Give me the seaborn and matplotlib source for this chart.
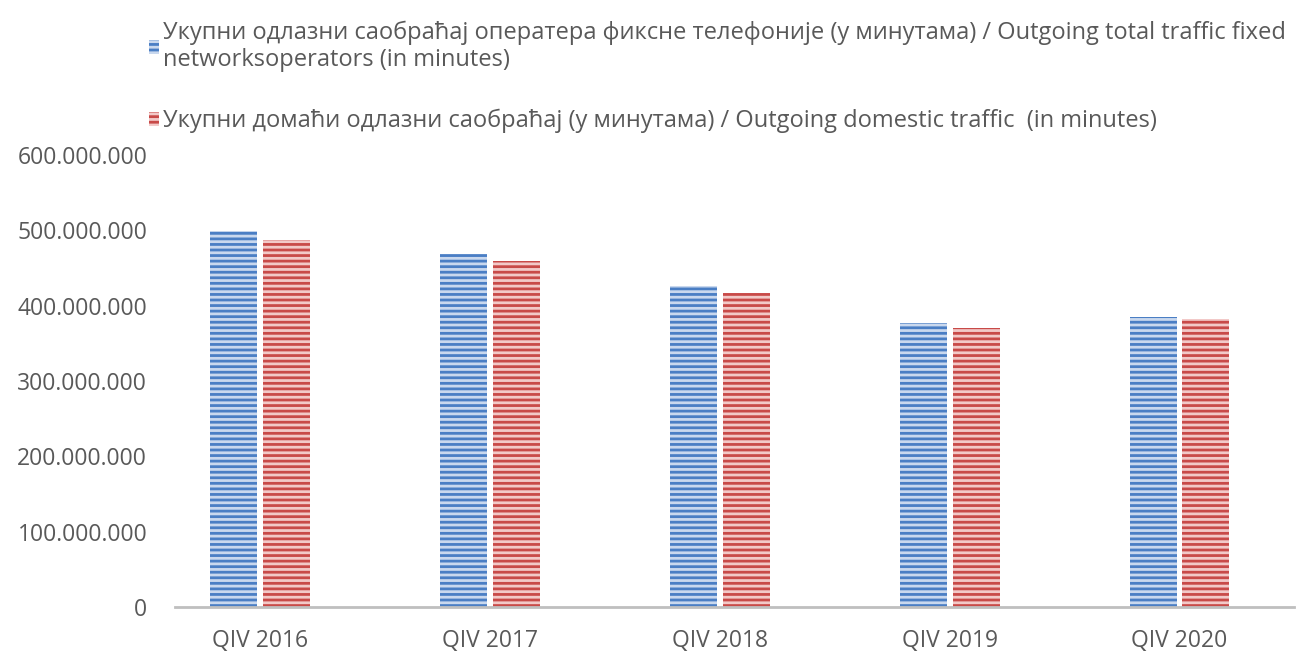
import numpy as np
import pandas as pd
import matplotlib
matplotlib.use("Agg")
import matplotlib.pyplot as plt
import matplotlib.ticker as mticker
import seaborn as sns

quarters = ["QIV 2016", "QIV 2017", "QIV 2018", "QIV 2019", "QIV 2020"]
total_traffic = [498_700_000, 468_000_000, 425_700_000, 376_700_000, 384_600_000]
domestic_traffic = [486_800_000, 459_000_000, 416_400_000, 370_000_000, 382_000_000]

label_total = ("Укупни одлазни саобраћај оператера фиксне телефоније (у минутама) / "
               "Outgoing total traffic fixed\nnetworksoperators (in minutes)")
label_domestic = "Укупни домаћи одлазни саобраћај (у минутама) / Outgoing domestic traffic  (in minutes)"

df = pd.DataFrame({
    "quarter": quarters * 2,
    "value": total_traffic + domestic_traffic,
    "series": [label_total] * len(quarters) + [label_domestic] * len(quarters),
})

sns.set_style("white")
plt.rcParams["font.family"] = ["Open Sans", "DejaVu Sans"]
plt.rcParams["hatch.linewidth"] = 2.0

colors = ["#4a7ec4", "#c84a48"]
stripe = ["#c9d8ee", "#f2c9c8"]
text_col = "#595959"

fig = plt.figure(figsize=(12.97, 6.57), dpi=100)
ax = fig.add_axes([175 / 1297, 1 - 607 / 657, 1 - 175 / 1297 - 0.002, (607 - 155) / 657])

sns.barplot(data=df, x="quarter", y="value", hue="series", palette=colors,
            width=0.46, gap=0.11, ax=ax, legend=False, saturation=1)

# horizontal light stripes on the bars
for cont, sc in zip(ax.containers, stripe):
    for bar in cont:
        bar.set_hatch("---")
        bar.set_edgecolor(sc)
        bar.set_linewidth(0)

ax.set_ylim(0, 600_000_000)
ax.set_xlim(-0.37, 4.5)
ax.yaxis.set_major_locator(mticker.MultipleLocator(100_000_000))
ax.yaxis.set_major_formatter(mticker.FuncFormatter(lambda v, p: f"{int(v):,}".replace(",", ".")))
ax.set_xlabel("")
ax.set_ylabel("")
ax.tick_params(axis="both", labelsize=16.5, colors=text_col, length=0)
ax.tick_params(axis="x", pad=16)
ax.tick_params(axis="y", pad=20)
for s in ["left", "right", "top"]:
    ax.spines[s].set_visible(False)
ax.spines["bottom"].set_color("#bfbfbf")
ax.spines["bottom"].set_linewidth(2)

handles = []
for c, sc in zip(colors, stripe):
    h = plt.Rectangle((0, 0), 1, 1, facecolor=c, edgecolor=sc, hatch="---", linewidth=0)
    handles.append(h)
leg = fig.legend(handles, [label_total, label_domestic], loc="upper left",
                 bbox_to_anchor=(128 / 1297, 1 + 1 / 657), frameon=False,
                 fontsize=17, handlelength=0.4, handleheight=0.55,
                 handletextpad=0.2, labelspacing=1.55, labelcolor=text_col)

fig.savefig("out.png", dpi=100)
